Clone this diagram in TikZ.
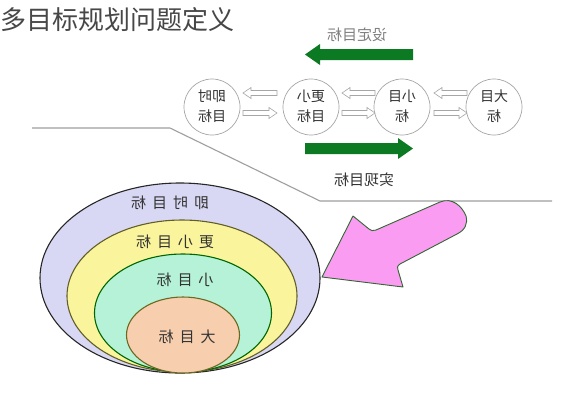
\documentclass[tikz,border=0pt]{standalone}
\usepackage{fontspec}
\usepackage{graphicx}
\usetikzlibrary{shapes.geometric}
\newfontfamily\cjk{Noto Sans CJK SC}
\definecolor{lav}{HTML}{D8D8F4}
\definecolor{yel}{HTML}{FAF59C}
\definecolor{mint}{HTML}{B5F2D8}
\definecolor{peach}{HTML}{F7CFAE}
\definecolor{pinkf}{HTML}{F99CF2}
\definecolor{darkgreen}{HTML}{0B7A22}
\definecolor{txt}{HTML}{333333}
\tikzset{
  ring/.style={ellipse, inner sep=0pt, line width=1.1pt},
  goal/.style={circle, draw=gray!70, fill=white, minimum size=56pt, inner sep=0pt, line width=0.7pt,
    font=\cjk\fontsize{14}{20}\selectfont, text=txt},
  lbl/.style={font=\cjk\fontsize{15}{18}\selectfont, text=txt, inner sep=0pt},
  hollow/.style={draw=gray!70, fill=white, line width=0.6pt},
  bigarrow/.style={fill=darkgreen, draw=none},
}
\newcommand\mir[1]{\reflectbox{#1}}
\newcommand\two[2]{\mir{\begin{tabular}{@{}c@{}}#1\\#2\end{tabular}}}
% hollow arrow right: x1 x2 y
\newcommand\hright[3]{\draw[hollow] (#1,#3-2.5) -- (#2-8,#3-2.5) -- (#2-8,#3-5.5) -- (#2,#3) -- (#2-8,#3+5.5) -- (#2-8,#3+2.5) -- (#1,#3+2.5) -- cycle;}
\newcommand\hleft[3]{\draw[hollow] (#2,#3-2.5) -- (#1+8,#3-2.5) -- (#1+8,#3-5.5) -- (#1,#3) -- (#1+8,#3+5.5) -- (#1+8,#3+2.5) -- (#2,#3+2.5) -- cycle;}
\begin{document}
\begin{tikzpicture}[x=1pt,y=-1pt]
\useasboundingbox[fill=white] (0,0) rectangle (572,400);

% title
\node[anchor=west, inner sep=0pt, font=\cjk\fontsize{26}{28}\selectfont, text=txt!90] (title) at (0,20) {多目标规划问题定义};

% separator line
\coordinate (l1) at (32,128);
\coordinate (l2) at (170,128);
\coordinate (l3) at (320,201);
\coordinate (l4) at (552,201);
\draw[gray!75, line width=1.1pt] (l1) -- (l2) -- (l3) -- (l4);

% top labels and arrows
\node[lbl, text=gray] (set) at (357,35) {\mir{设定目标}};
\fill[bigarrow] (413,49) -- (320,49) -- (320,44) -- (305,54.5) -- (320,65) -- (320,60) -- (413,60) -- cycle;
\fill[bigarrow] (305,143) -- (398,143) -- (398,138) -- (413,148.5) -- (398,159) -- (398,154) -- (305,154) -- cycle;
\node[lbl] (real) at (364,180) {\mir{实现目标}};

% circles
\node[goal] (c1) at (212,107) {\two{即时}{目标}};
\node[goal] (c2) at (311,107) {\two{更小}{目标}};
\node[goal] (c3) at (402,107) {\two{小目}{标}};
\node[goal] (c4) at (494,107) {\two{大目}{标}};

\hleft{243}{277}{93}
\hright{243}{277}{113}
\hleft{342}{375}{93}
\hright{342}{375}{113}
\hleft{434}{467}{93}
\hright{434}{467}{113}

% nested ellipses
\node[ring, draw=gray!30!black, fill=lav, minimum width=280pt, minimum height=190pt] (e1) at (180,278) {};
\node[ring, draw=olive!60!black, fill=yel, minimum width=230pt, minimum height=152pt] (e2) at (182,296) {};
\node[ring, draw=green!40!black, fill=mint, minimum width=177pt, minimum height=118pt] (e3) at (183,313) {};
\node[ring, draw=olive!70!black, fill=peach, minimum width=113pt, minimum height=76pt] (e4) at (183,335) {};

\node[lbl] (t1) at (170,203) {\mir{即\hspace{6pt}时\hspace{6pt}目\hspace{6pt}标}};
\node[lbl] (t2) at (175,242) {\mir{更\hspace{6pt}小\hspace{6pt}目\hspace{6pt}标}};
\node[lbl] (t3) at (185,280) {\mir{小\hspace{6pt}目\hspace{6pt}标}};
\node[lbl] (t4) at (187,337) {\mir{大\hspace{6pt}目\hspace{6pt}标}};

% pink arrow
\draw[fill=pinkf, draw=green!25!black!80, line width=0.9pt, line join=round]
  (322,277) -- (353,216) -- (369,229)
  .. controls (371,231) and (373,231) .. (376,230)
  -- (440,202)
  .. controls (452,197) and (462,206) .. (466,216)
  .. controls (468,224) and (465,230) .. (457,234)
  -- (400,264)
  .. controls (397,266) and (397,268) .. (398,270)
  -- (403,287) -- cycle;
\end{tikzpicture}
\end{document}
